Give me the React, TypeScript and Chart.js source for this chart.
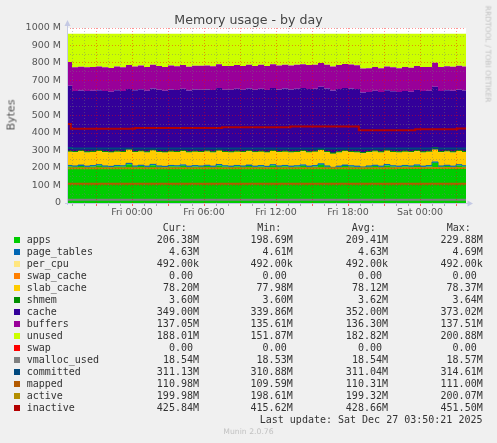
import React, { useEffect, useRef } from 'react';
import { Chart, registerables } from 'chart.js';

Chart.register(...registerables);

// ---- time axis (hours relative to Fri 00:00) ----
const TIMES = [
  -5.5, -5, -4.5, -4, -3.5, -3, -2.5, -2, -1.5, -1,
  -0.5, 0, 0.5, 1, 1.5, 2, 2.5, 3, 3.5, 4,
  4.5, 5, 5.5, 6, 6.5, 7, 7.5, 8, 8.5, 9,
  9.5, 10, 10.5, 11, 11.5, 12, 12.5, 13, 13.5, 14,
  14.5, 15, 15.5, 16, 16.5, 17, 17.5, 18, 18.5, 19,
  19.5, 20, 20.5, 21, 21.5, 22, 22.5, 23, 23.5, 24,
  24.5, 25, 25.5, 26, 26.5, 27, 27.5, 28,
];
const X_MIN = -5.4167;
const X_MAX = 27.8333;
const X_GRID_HOURS = [-5, -4, -3, -2, -1, 0, 1, 2, 3, 4, 5, 6, 7, 8, 9, 10, 11, 12, 13, 14, 15, 16, 17, 18, 19, 20, 21, 22, 23, 24, 25, 26, 27];
const X_LABEL_HOURS = [0, 6, 12, 18, 24];
const X_LABELS = ['Fri 00:00', 'Fri 06:00', 'Fri 12:00', 'Fri 18:00', 'Sat 00:00'];

const Y_GRID_VALUES = [0, 50, 100, 150, 200, 250, 300, 350, 400, 450, 500, 550, 600, 650, 700, 750, 800, 850, 900, 950, 1000];
const Y_LABEL_VALUES = [0, 100, 200, 300, 400, 500, 600, 700, 800, 900, 1000];
const Y_LABELS = ['0', '100 M', '200 M', '300 M', '400 M', '500 M', '600 M', '700 M', '800 M', '900 M', '1000 M'];

// ---- stacked series (MB) ----
const APPS = [
  210, 207, 212, 206, 209, 214, 207, 205, 210, 208,
  222, 207, 211, 206, 216, 207, 205, 210, 208, 213,
  206, 209, 207, 211, 206, 215, 208, 206, 210, 207,
  212, 206, 209, 205, 214, 207, 210, 206, 208, 213,
  206, 209, 219, 207, 199, 206, 212, 208, 206, 201,
  207, 211, 206, 215, 208, 206, 210, 207, 213, 206,
  209, 229.9, 207, 211, 206, 214, 208, 206.4,
];
const PAGE_TABLES = [
  4.61, 4.62, 4.63, 4.63, 4.62, 4.63, 4.64, 4.63, 4.62, 4.63,
  4.64, 4.63, 4.62, 4.63, 4.63, 4.64, 4.63, 4.62, 4.63, 4.69,
  4.63, 4.62, 4.63, 4.64, 4.63, 4.62, 4.63, 4.63, 4.64, 4.63,
  4.62, 4.63, 4.63, 4.64, 4.63, 4.62, 4.63, 4.63, 4.64, 4.63,
  4.62, 4.63, 4.65, 4.63, 4.62, 4.63, 4.64, 4.63, 4.62, 4.63,
  4.63, 4.64, 4.63, 4.62, 4.63, 4.63, 4.64, 4.63, 4.62, 4.63,
  4.63, 4.66, 4.63, 4.62, 4.63, 4.64, 4.63, 4.63,
];
const PER_CPU = [
  0.492, 0.492, 0.492, 0.492, 0.492, 0.492, 0.492, 0.492, 0.492, 0.492,
  0.492, 0.492, 0.492, 0.492, 0.492, 0.492, 0.492, 0.492, 0.492, 0.492,
  0.492, 0.492, 0.492, 0.492, 0.492, 0.492, 0.492, 0.492, 0.492, 0.492,
  0.492, 0.492, 0.492, 0.492, 0.492, 0.492, 0.492, 0.492, 0.492, 0.492,
  0.492, 0.492, 0.492, 0.492, 0.492, 0.492, 0.492, 0.492, 0.492, 0.492,
  0.492, 0.492, 0.492, 0.492, 0.492, 0.492, 0.492, 0.492, 0.492, 0.492,
  0.492, 0.492, 0.492, 0.492, 0.492, 0.492, 0.492, 0.492,
];
const SWAP_CACHE = [
  0, 0, 0, 0, 0, 0, 0, 0, 0, 0,
  0, 0, 0, 0, 0, 0, 0, 0, 0, 0,
  0, 0, 0, 0, 0, 0, 0, 0, 0, 0,
  0, 0, 0, 0, 0, 0, 0, 0, 0, 0,
  0, 0, 0, 0, 0, 0, 0, 0, 0, 0,
  0, 0, 0, 0, 0, 0, 0, 0, 0, 0,
  0, 0, 0, 0, 0, 0, 0, 0,
];
const SLAB_CACHE = [
  78.0, 78.1, 78.2, 78.1, 78.0, 78.1, 78.2, 78.1, 78.1, 78.0,
  78.2, 78.1, 78.1, 78.0, 78.2, 78.1, 78.1, 78.37, 78.1, 78.0,
  78.1, 78.2, 78.1, 78.1, 77.98, 78.1, 78.2, 78.1, 78.1, 78.0,
  78.1, 78.2, 78.1, 78.1, 78.0, 78.1, 78.2, 78.1, 78.1, 78.0,
  78.1, 78.2, 78.1, 78.1, 78.0, 78.1, 78.2, 78.1, 78.1, 78.0,
  78.1, 78.2, 78.1, 78.1, 78.0, 78.1, 78.2, 78.1, 78.1, 78.0,
  78.1, 78.2, 78.1, 78.1, 78.0, 78.1, 78.2, 78.2,
];
const SHMEM = [
  3.60, 3.61, 3.62, 3.61, 3.62, 3.63, 3.62, 3.61, 3.62, 3.62,
  3.63, 3.62, 3.61, 3.62, 3.62, 3.63, 3.62, 3.62, 3.64, 3.62,
  3.61, 3.62, 3.62, 3.63, 3.62, 3.61, 3.62, 3.62, 3.63, 3.62,
  3.62, 3.61, 3.62, 3.63, 3.62, 3.62, 3.61, 3.62, 3.63, 3.62,
  3.62, 3.61, 3.62, 3.63, 3.62, 3.62, 3.61, 3.62, 3.63, 3.62,
  3.62, 3.61, 3.62, 3.63, 3.62, 3.62, 3.61, 3.62, 3.63, 3.62,
  3.62, 3.61, 3.62, 3.63, 3.62, 3.61, 3.60, 3.60,
];
const CACHE = [
  373.0,
  346, 344, 347, 345, 343, 346, 344, 347, 345, 343,
  350, 352, 349, 351, 353, 350, 352, 351, 353, 350, 352, 354, 351,
  353, 355, 352, 354, 356, 353, 355, 354, 357, 354, 356, 355, 357,
  356, 358, 357, 359, 357, 358, 360, 357, 359, 358, 360, 358,
  344, 339.9, 343, 341, 342, 344, 341, 343, 342,
  346, 347, 345, 348, 346, 347, 349, 347, 348, 349,
];
const BUFFERS = [
  135.7, 135.6, 135.8, 135.7, 135.9, 135.8, 135.7, 135.9, 136.0, 135.8, 135.9,
  136.0, 136.1, 135.9, 136.1, 136.2, 136.0, 136.2, 136.1, 136.3, 136.2, 136.1, 136.3, 136.2,
  136.4, 136.3, 136.5, 136.4, 136.3, 136.5, 136.6, 136.4, 136.5, 136.6, 136.5, 136.7, 136.6,
  136.5, 136.7, 136.6, 136.8, 136.7, 136.6, 136.8, 136.7, 136.9, 136.8, 136.7, 136.9,
  136.2, 136.3, 136.4, 136.3, 136.5, 136.4, 136.6, 136.5, 136.7,
  136.6, 136.8, 136.7, 136.9, 136.8, 137.0, 136.9, 137.1, 137.5, 137.05,
];
const UNUSED = [
  161.9, 192.0, 188.8, 191.9, 190.7, 187.8, 191.9, 195.7, 187.6, 191.8,
  179.7, 187.6, 181.5, 189.7, 177.5, 184.4, 189.6, 182.4, 185.5, 178.3,
  188.4, 183.5, 183.3, 182.4, 185.2, 174.3, 184.1, 184.2, 178.3, 184.1,
  177.0, 184.2, 178.1, 185.0, 174.1, 181.9, 177.0, 182.1, 177.9, 174.0,
  178.8, 177.9, 167.0, 176.8, 187.9, 178.7, 173.8, 175.9, 179.7, 199.4,
  197.4, 190.2, 197.3, 187.1, 192.2, 197.0, 191.1, 194.9, 185.0, 190.8,
  189.9, 165.8, 190.8, 185.6, 188.7, 182.5, 187.1, 188.0,
];
const SWAP = [
  0, 0, 0, 0, 0, 0, 0, 0, 0, 0,
  0, 0, 0, 0, 0, 0, 0, 0, 0, 0,
  0, 0, 0, 0, 0, 0, 0, 0, 0, 0,
  0, 0, 0, 0, 0, 0, 0, 0, 0, 0,
  0, 0, 0, 0, 0, 0, 0, 0, 0, 0,
  0, 0, 0, 0, 0, 0, 0, 0, 0, 0,
  0, 0, 0, 0, 0, 0, 0, 0,
];

// ---- line series (own time points, MB) ----
const VMALLOC_T = [-5.5, 10, 28];
const VMALLOC = [18.57, 18.54, 18.54];
const COMMITTED_T = [-5.5, -5.0, 12, 28];
const COMMITTED = [314.61, 310.9, 311.0, 311.13];
const MAPPED_T = [-5.5, 8, 20, 28];
const MAPPED = [109.6, 110.2, 110.6, 110.98];
const ACTIVE_T = [-5.5, 10, 22, 28];
const ACTIVE = [198.6, 199.2, 199.6, 199.98];
const INACTIVE_T = [-5.5, -5.1, 0.25, 7.5, 13.2, 18.9, 23.6, 27.1, 28];
const INACTIVE = [451.5, 425, 429, 433.5, 437.5, 415.6, 422, 425.84, 425.84];

// ---- legend ----
const SERIES_NAMES = ['apps', 'page_tables', 'per_cpu', 'swap_cache', 'slab_cache', 'shmem', 'cache', 'buffers', 'unused', 'swap', 'vmalloc_used', 'committed', 'mapped', 'active', 'inactive'];
const SERIES_COLORS = ['#00CC00', '#0066B3', '#FFE680', '#FF8000', '#FFCC00', '#008F00', '#330099', '#990099', '#CCFF00', '#FF0000', '#808080', '#00487D', '#B35A00', '#B38F00', '#B30000'];
const CUR = ['206.38M', '4.63M', '492.00k', '0.00 ', '78.20M', '3.60M', '349.00M', '137.05M', '188.01M', '0.00 ', '18.54M', '311.13M', '110.98M', '199.98M', '425.84M'];
const MIN = ['198.69M', '4.61M', '492.00k', '0.00 ', '77.98M', '3.60M', '339.86M', '135.61M', '151.87M', '0.00 ', '18.53M', '310.88M', '109.59M', '198.61M', '415.62M'];
const AVG = ['209.41M', '4.63M', '492.00k', '0.00 ', '78.12M', '3.62M', '352.00M', '136.30M', '182.82M', '0.00 ', '18.54M', '311.04M', '110.31M', '199.32M', '428.66M'];
const MAX = ['229.88M', '4.69M', '492.00k', '0.00 ', '78.37M', '3.64M', '373.02M', '137.51M', '200.88M', '0.00 ', '18.57M', '314.61M', '111.00M', '200.07M', '451.50M'];

const TITLE = 'Memory usage - by day';
const Y_TITLE = 'Bytes';
const SIDE_TEXT = 'RRDTOOL / TOBI OETIKER';
const LAST_UPDATE = 'Last update: Sat Dec 27 03:50:21 2025';
const FOOTER = 'Munin 2.0.76';

const STACKED = [APPS, PAGE_TABLES, PER_CPU, SWAP_CACHE, SLAB_CACHE, SHMEM, CACHE, BUFFERS, UNUSED, SWAP];
const STACK_BORDER = [0, 1, 0, 0, 0, 1, 0, 0, 0, 0];
const LINES: [number[], number[]][] = [
  [VMALLOC_T, VMALLOC],
  [COMMITTED_T, COMMITTED],
  [MAPPED_T, MAPPED],
  [ACTIVE_T, ACTIVE],
  [INACTIVE_T, INACTIVE],
];

const AXIS_COLOR = '#c4c9e4';
const MAJOR_GRID = 'rgba(255,0,0,0.42)';
const MINOR_GRID = 'rgba(120,120,120,0.42)';

const munPlugin = {
  id: 'munin',
  beforeDraw(chart: any) {
    const { ctx, chartArea: a } = chart;
    ctx.save();
    ctx.fillStyle = '#ffffff';
    ctx.fillRect(a.left, a.top, a.right - a.left, a.bottom - a.top);
    ctx.restore();
  },
  afterDraw(chart: any) {
    const { ctx, chartArea: a } = chart;
    ctx.save();
    ctx.strokeStyle = AXIS_COLOR;
    ctx.lineWidth = 1;
    ctx.beginPath();
    ctx.moveTo(a.left + 0.5, a.bottom + 2);
    ctx.lineTo(a.left + 0.5, a.top - 4);
    ctx.moveTo(a.left - 2, a.bottom + 0.5);
    ctx.lineTo(a.right + 3, a.bottom + 0.5);
    ctx.stroke();
    ctx.fillStyle = AXIS_COLOR;
    ctx.beginPath();
    ctx.moveTo(a.left + 0.5, a.top - 8);
    ctx.lineTo(a.left - 2.5, a.top - 2);
    ctx.lineTo(a.left + 3.5, a.top - 2);
    ctx.closePath();
    ctx.fill();
    ctx.beginPath();
    ctx.moveTo(a.right + 7, a.bottom + 0.5);
    ctx.lineTo(a.right + 1.5, a.bottom - 2.5);
    ctx.lineTo(a.right + 1.5, a.bottom + 3.5);
    ctx.closePath();
    ctx.fill();
    ctx.restore();
  },
};

export default function App() {
  const ref = useRef<HTMLCanvasElement>(null);

  useEffect(() => {
    document.body.style.margin = '0';
    document.body.style.background = '#F0F0F0';
    const canvas = ref.current;
    if (!canvas) return;

    const datasets: any[] = [];
    STACKED.forEach((vals, i) => {
      datasets.push({
        label: SERIES_NAMES[i],
        data: TIMES.map((t, k) => ({ x: t, y: vals[k] })),
        backgroundColor: SERIES_COLORS[i],
        borderColor: STACK_BORDER[i] ? SERIES_COLORS[i] : 'rgba(0,0,0,0)',
        borderWidth: STACK_BORDER[i] ? 1 : 0,
        fill: i === 0 ? 'origin' : '-1',
        stack: 'mem',
        stepped: true,
        pointRadius: 0,
        tension: 0,
        order: 1,
      });
    });
    LINES.forEach(([ts, vs], j) => {
      const idx = STACKED.length + j;
      datasets.push({
        label: SERIES_NAMES[idx],
        data: ts.map((t, k) => ({ x: t, y: vs[k] })),
        borderColor: SERIES_COLORS[idx],
        backgroundColor: SERIES_COLORS[idx],
        borderWidth: 2,
        fill: false,
        stack: 'line' + j,
        stepped: true,
        pointRadius: 0,
        tension: 0,
        order: 0,
      });
    });

    const tickFont = { family: 'DejaVu Sans', size: 9.5 };

    const chart = new Chart(canvas, {
      type: 'line',
      data: { datasets },
      options: {
        animation: false,
        responsive: false,
        maintainAspectRatio: false,
        parsing: true as any,
        layout: { padding: { left: 0, right: 31, top: 28, bottom: 0 } },
        plugins: {
          legend: { display: false },
          tooltip: { enabled: false },
          title: { display: false },
        },
        scales: {
          x: {
            type: 'linear',
            min: X_MIN,
            max: X_MAX,
            afterBuildTicks: (scale: any) => {
              scale.ticks = X_GRID_HOURS.map((v) => ({ value: v }));
            },
            afterFit: (scale: any) => {
              scale.height = 22;
            },
            ticks: {
              autoSkip: false,
              maxRotation: 0,
              minRotation: 0,
              padding: 1,
              color: '#555',
              font: tickFont,
              callback: (value: any) => {
                const k = X_LABEL_HOURS.indexOf(Number(value));
                return k >= 0 ? X_LABELS[k] : '';
              },
            },
            grid: {
              z: 1,
              drawTicks: true,
              tickLength: 3,
              lineWidth: 1,
              color: (c: any) => (c.tick && c.tick.value % 3 === 0 ? MAJOR_GRID : MINOR_GRID),
              tickColor: (c: any) => (c.tick && c.tick.value % 3 === 0 ? 'rgba(255,0,0,0.6)' : 'rgba(120,120,120,0.6)'),
            },
            border: { display: false, dash: [1, 2] },
          },
          y: {
            type: 'linear',
            stacked: true,
            min: 0,
            max: 1000,
            afterBuildTicks: (scale: any) => {
              scale.ticks = Y_GRID_VALUES.map((v) => ({ value: v }));
            },
            afterFit: (scale: any) => {
              scale.width = 67;
            },
            ticks: {
              autoSkip: false,
              padding: 6,
              color: '#555',
              font: tickFont,
              callback: (value: any) => {
                const k = Y_LABEL_VALUES.indexOf(Number(value));
                return k >= 0 ? Y_LABELS[k] : '';
              },
            },
            grid: {
              z: 1,
              drawTicks: false,
              lineWidth: 1,
              color: (c: any) => (c.tick && c.tick.value % 100 === 0 ? MAJOR_GRID : MINOR_GRID),
            },
            border: { display: false, dash: [1, 2] },
          },
        },
      } as any,
      plugins: [munPlugin],
    });
    return () => chart.destroy();
  }, []);

  const mono: React.CSSProperties = {
    position: 'absolute',
    fontFamily: '"DejaVu Sans Mono", monospace',
    fontSize: 10,
    lineHeight: '12px',
    height: 12,
    whiteSpace: 'pre',
    color: '#333',
  };
  const W = 497;
  const colRight = [199, 292.7, 388, 482.7];
  const headLeft = [162.7, 257.3, 351.7, 446.7];
  const heads = ['Cur:', 'Min:', 'Avg:', 'Max:'];
  const cols = [CUR, MIN, AVG, MAX];

  return (
    <div style={{ position: 'relative', width: W, height: 443, background: '#F0F0F0', overflow: 'hidden' }}>
      <canvas ref={ref} width={W} height={225} style={{ position: 'absolute', left: 0, top: 0, width: W, height: 225 }} />
      <div style={{ position: 'absolute', left: 0, top: 12, width: W, textAlign: 'center', fontFamily: '"DejaVu Sans"', fontSize: 12.6, lineHeight: '15px', color: '#444', whiteSpace: 'nowrap' }}>{TITLE}</div>
      <div style={{ position: 'absolute', left: 10.5, top: 115, transform: 'translate(-50%, -50%) rotate(-90deg)', fontFamily: '"DejaVu Sans"', fontSize: 11, lineHeight: '13px', color: '#555', whiteSpace: 'nowrap' }}>{Y_TITLE}</div>
      <div style={{ position: 'absolute', left: 487.5, top: 53.5, transform: 'translate(-50%, -50%) rotate(90deg)', fontFamily: '"DejaVu Sans"', fontSize: 7.5, lineHeight: '9px', color: '#c2c2c2', whiteSpace: 'nowrap' }}>{SIDE_TEXT}</div>
      {heads.map((h, j) => (
        <div key={h} style={{ ...mono, left: headLeft[j], top: 228 - 6 }}>{h}</div>
      ))}
      {SERIES_NAMES.map((name, i) => {
        const cy = 240 + 12 * i;
        return (
          <React.Fragment key={name}>
            <div style={{ position: 'absolute', left: 14, top: cy - 3, width: 6, height: 6, background: SERIES_COLORS[i] }} />
            <div style={{ ...mono, left: 26.7, top: cy - 6 }}>{name}</div>
            {cols.map((col, j) => (
              <div key={j} style={{ ...mono, right: W - colRight[j], top: cy - 6, textAlign: 'right' }}>{col[i]}</div>
            ))}
          </React.Fragment>
        );
      })}
      <div style={{ ...mono, right: W - 482.5, top: 420 - 6, textAlign: 'right' }}>{LAST_UPDATE}</div>
      <div style={{ position: 'absolute', left: 0, top: 432 - 5, width: W, textAlign: 'center', fontFamily: '"DejaVu Sans"', fontSize: 7.7, lineHeight: '10px', color: '#c2c2c2', whiteSpace: 'nowrap' }}>{FOOTER}</div>
    </div>
  );
}
